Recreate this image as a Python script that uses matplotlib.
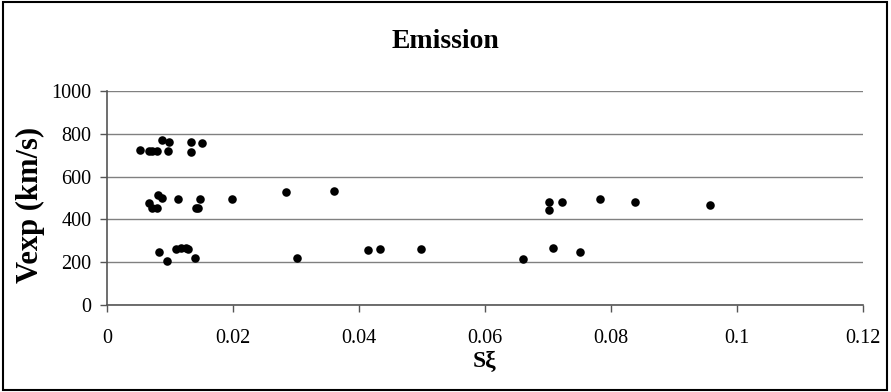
import matplotlib
matplotlib.use("Agg")
from matplotlib import pyplot as plt
from matplotlib.patches import Rectangle

# S-xi values and expansion velocities
s_xi = [
    0.0052, 0.0066, 0.0071, 0.0080, 0.0088, 0.0097, 0.0098, 0.0133, 0.0133, 0.0151,
    0.0067, 0.0071, 0.0080, 0.0081, 0.0088, 0.0113, 0.0141, 0.0144, 0.0148, 0.0198,
    0.0285, 0.0360,
    0.0083, 0.0096, 0.0110, 0.0118, 0.0125, 0.0128, 0.0139, 0.0301, 0.0415, 0.0433,
    0.0498, 0.0661, 0.0708, 0.0751,
    0.0701, 0.0701, 0.0723, 0.0783, 0.0838, 0.0957,
]
vexp = [
    724, 721, 721, 721, 771, 721, 763, 763, 716, 756,
    478, 455, 455, 514, 498, 495, 452, 455, 495, 495,
    527, 534,
    246, 207, 262, 265, 268, 262, 218, 218, 255, 262,
    262, 216, 268, 246,
    483, 444, 483, 495, 483, 467,
]

plt.rcParams["font.family"] = ["Liberation Serif", "DejaVu Serif"]

fig = plt.figure(figsize=(8.91, 3.92), dpi=100)
ax = fig.add_axes([0.120, 0.222, 0.8486, 0.546])

ax.scatter(s_xi, vexp, s=38, color="black", zorder=3, linewidths=0)

ax.set_xlim(0, 0.12)
ax.set_ylim(0, 1000)
ax.set_xticks([0, 0.02, 0.04, 0.06, 0.08, 0.1, 0.12])
ax.set_xticklabels(["0", "0.02", "0.04", "0.06", "0.08", "0.1", "0.12"])
ax.set_yticks(range(0, 1001, 200))
ax.grid(axis="y", color="#808080", linewidth=1.0)
ax.set_axisbelow(True)
for side in ["top", "right"]:
    ax.spines[side].set_visible(False)
for side in ["left", "bottom"]:
    ax.spines[side].set_color("#555555")
    ax.spines[side].set_linewidth(1.2)
ax.tick_params(axis="both", direction="out", length=5, width=1, colors="#555555",
               labelcolor="black", labelsize=14.5, pad=6)
ax.tick_params(axis="x", pad=12)

# axis titles and chart title placed in figure coords
fig.text(0.5435, 0.077, "Sξ", ha="center", va="center", fontsize=17, fontweight="bold")
fig.text(0.034, 0.477, "Vexp (km/s)", rotation=90, ha="center", va="center",
         fontsize=22, fontweight="bold")
fig.text(0.5, 0.893, "Emission", ha="center", va="center", fontsize=20, fontweight="bold")

fig.patches.append(Rectangle((0.003, 0.005), 0.993, 0.99, transform=fig.transFigure,
                             fill=False, edgecolor="black", linewidth=1.5))

fig.savefig("out.png", dpi=100)
